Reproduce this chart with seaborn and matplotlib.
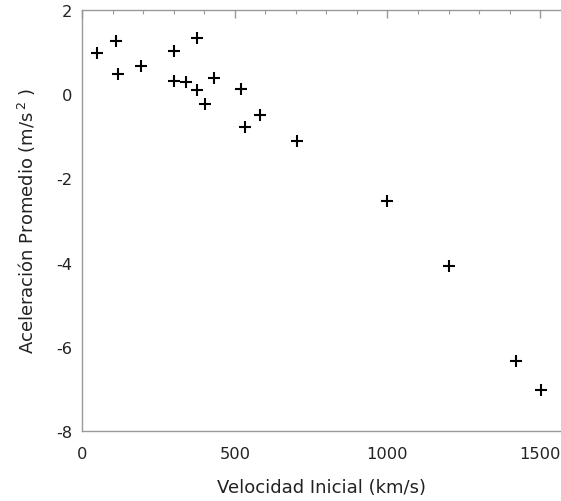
import matplotlib
matplotlib.use("Agg")
import matplotlib.pyplot as plt
from matplotlib.ticker import MultipleLocator
import seaborn as sns
import pandas as pd

# Initial speed (km/s) and mean acceleration (m/s^2) for each event
velocidad = [48, 111, 119, 192, 301, 301, 341, 375, 375, 402, 431, 520, 532, 582,
             705, 1000, 1202, 1420, 1504]
aceleracion = [0.98, 1.26, 0.48, 0.68, 1.02, 0.32, 0.30, 1.33, 0.10, -0.22, 0.38,
               0.12, -0.77, -0.49, -1.12, -2.54, -4.07, -6.34, -7.02]

df = pd.DataFrame({"v": velocidad, "a": aceleracion})

sns.set_theme(style="white")
plt.rcParams["font.family"] = ["DejaVu Sans"]
plt.rcParams["axes.unicode_minus"] = False

fig = plt.figure(figsize=(5.61, 5.02), dpi=100)
ax = fig.add_axes([0.1462, 0.1394, 0.8538, 0.8386])

sns.scatterplot(data=df, x="v", y="a", marker="+", s=75, color="black",
                linewidth=1.5, ax=ax, legend=False)

ax.set_xlim(0, 1568)
ax.set_ylim(-8, 2)
ax.xaxis.set_major_locator(MultipleLocator(500))
ax.xaxis.set_minor_locator(MultipleLocator(100))
ax.yaxis.set_major_locator(MultipleLocator(2))
ax.yaxis.set_minor_locator(MultipleLocator(0.5))

ax.tick_params(which="both", direction="in", top=True, right=False,
               color="#999999", labelsize=11.7, labelcolor="#222222")
ax.tick_params(which="major", length=6, width=1)
ax.tick_params(which="minor", length=3.2, width=0.8)
ax.tick_params(axis="x", pad=11)
ax.tick_params(axis="y", pad=7)

for side in ["left", "bottom", "top"]:
    ax.spines[side].set_color("#999999")
    ax.spines[side].set_linewidth(1.0)
ax.spines["right"].set_visible(False)

ax.set_xlabel("Velocidad Inicial (km/s)", fontsize=13, color="#222222", labelpad=12)
ax.set_ylabel("Aceleración Promedio (m/s$^{\\,2}$ )", fontsize=13, color="#222222",
              labelpad=13)

fig.savefig("out.png", dpi=100)
